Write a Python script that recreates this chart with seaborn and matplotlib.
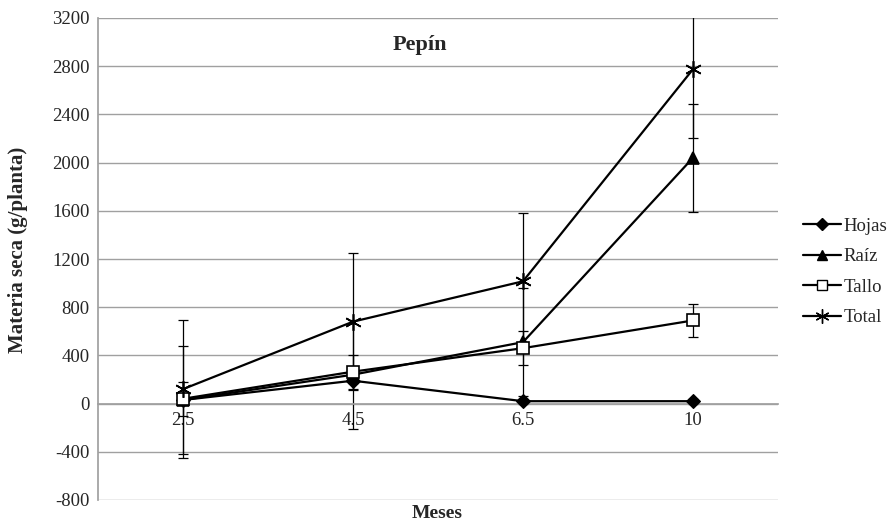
import matplotlib
matplotlib.use("Agg")
import matplotlib.pyplot as plt
from matplotlib.lines import Line2D
import seaborn as sns
import pandas as pd
import numpy as np

categories = ["2.5", "4.5", "6.5", "10"]
hojas = [30, 190, 20, 20]
raiz = [30, 240, 510, 2040]
tallo = [40, 265, 460, 690]
total = [120, 680, 1015, 2775]
err_hojas = [20, 20, 20, 20]
err_raiz = [450, 450, 450, 450]
err_tallo = [140, 140, 140, 140]
err_total = [570, 570, 570, 570]
series_names = ["Hojas", "Raíz", "Tallo", "Total"]
yticks = [-800, -400, 0, 400, 800, 1200, 1600, 2000, 2400, 2800, 3200]

sns.set_theme(style="white")
plt.rcParams["font.family"] = ["Liberation Serif", "DejaVu Serif"]

pos = list(range(len(categories)))
rows = []
for name, vals in zip(series_names, [hojas, raiz, tallo, total]):
    for p, v in zip(pos, vals):
        rows.append({"pos": p, "valor": v, "serie": name})
df = pd.DataFrame(rows)

fig = plt.figure(figsize=(8.91, 5.25), dpi=100)
ax = fig.add_axes([98 / 891, 1 - 500 / 525, 680 / 891, 482 / 525])

gray = "#a0a0a0"
for t in yticks:
    ax.axhline(t, color=gray, lw=1.0, zorder=0)

# error bars
for vals, errs in zip([hojas, raiz, tallo, total], [err_hojas, err_raiz, err_tallo, err_total]):
    ax.errorbar(pos, vals, yerr=errs, fmt="none", ecolor="black", elinewidth=0.9,
                capsize=3.5, capthick=0.9, zorder=2)

markers = {"Hojas": "D", "Raíz": "^", "Tallo": "s", "Total": (6, 2, 0)}
sizes = {"Hojas": 7, "Raíz": 9, "Tallo": 9, "Total": 12}
for name in series_names:
    sub = df[df["serie"] == name]
    sns.lineplot(data=sub, x="pos", y="valor", ax=ax, color="black", lw=1.6,
                 marker=markers[name], markersize=sizes[name],
                 markerfacecolor="white" if name == "Tallo" else "black",
                 markeredgecolor="black", markeredgewidth=1.2 if name != "Hojas" else 0.8,
                 zorder=3, legend=False)

fs = 13.5
ax.set_xlim(-0.5, 3.5)
ax.set_ylim(-800, 3200)
ax.set_yticks(yticks)
ax.set_yticklabels([str(t) for t in yticks], fontsize=fs)

# category axis crossing at zero
ax.spines["bottom"].set_position(("data", 0))
ax.spines["bottom"].set_color(gray)
ax.spines["left"].set_color(gray)
ax.spines["top"].set_visible(False)
ax.spines["right"].set_visible(False)
ax.set_xticks([0.5, 1.5, 2.5, 3.5])
ax.set_xticklabels([])
ax.set_xticks(pos, minor=True)
ax.set_xticklabels(categories, minor=True, fontsize=fs)
ax.tick_params(axis="x", which="major", direction="out", length=5, color=gray, width=1)
ax.tick_params(axis="x", which="minor", length=0, pad=6)
ax.tick_params(axis="y", direction="out", length=5, color=gray, width=1, pad=1)

ax.set_xlabel("")
ax.set_ylabel("")
fig.text(18 / 891, 1 - 250 / 525, "Materia seca (g/planta)", rotation=90, ha="center",
         va="center", fontsize=15, fontweight="bold")
fig.text(437 / 891, 1 - 514 / 525, "Meses", ha="center", va="center", fontsize=14,
         fontweight="bold")
ax.text(0.474, 0.944, "Pepín", transform=ax.transAxes, ha="center", va="center",
        fontsize=16, fontweight="bold")

handles = []
for name in series_names:
    handles.append(Line2D([0], [0], color="black", lw=1.6, marker=markers[name],
                          markersize=sizes[name] * 0.85,
                          markerfacecolor="white" if name == "Tallo" else "black",
                          markeredgecolor="black", markeredgewidth=1.0))
fig.legend(handles, series_names, loc="center left", bbox_to_anchor=(803 / 891, 1 - 272 / 525),
           frameon=False, fontsize=fs, handlelength=2.0, handletextpad=0.15,
           labelspacing=0.72, borderaxespad=0, borderpad=0)

fig.savefig("out.png", dpi=100)
